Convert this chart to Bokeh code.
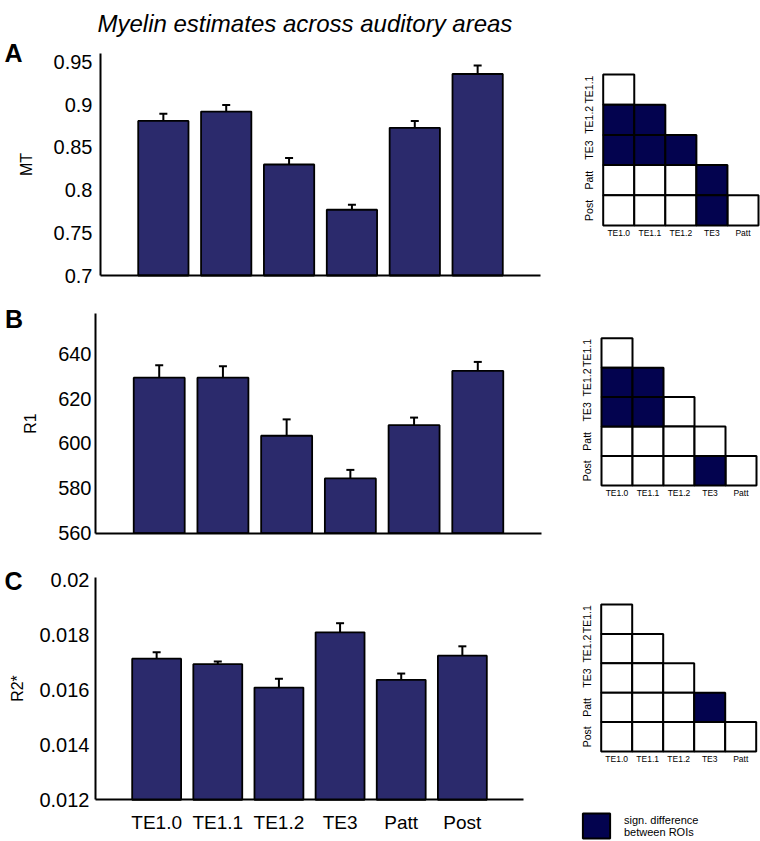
from bokeh.plotting import figure
from bokeh.models import (Range1d, FixedTicker, PrintfTickFormatter, Whisker, TeeHead,
                          ColumnDataSource, Label, Legend, LegendItem, LinearAxis)
from bokeh.embed import file_html
from bokeh.resources import INLINE

# ---------------- data ----------------
regions = ["TE1.0", "TE1.1", "TE1.2", "TE3", "Patt", "Post"]

mt_values = [0.881, 0.892, 0.830, 0.777, 0.873, 0.936]
mt_errors = [0.0085, 0.0078, 0.0075, 0.0058, 0.0080, 0.0100]
mt_ticks = [0.7, 0.75, 0.8, 0.85, 0.9, 0.95]

r1_values = [629.3, 629.3, 603.4, 584.4, 608.1, 632.3]
r1_errors = [5.5, 5.1, 7.3, 3.8, 3.4, 4.0]
r1_ticks = [560, 580, 600, 620, 640]

r2_values = [0.01713, 0.01693, 0.01608, 0.01809, 0.01636, 0.01724]
r2_errors = [0.00023, 0.00010, 0.00032, 0.00033, 0.00023, 0.00034]
r2_ticks = [0.012, 0.014, 0.016, 0.018, 0.02]

mat_cols = ["TE1.0", "TE1.1", "TE1.2", "TE3", "Patt"]
mat_rows = ["TE1.1", "TE1.2", "TE3", "Patt", "Post"]
sig_mt = [[0], [1, 1], [1, 1, 1], [0, 0, 0, 1], [0, 0, 0, 1, 0]]
sig_r1 = [[0], [1, 1], [1, 1, 0], [0, 0, 0, 0], [0, 0, 0, 1, 0]]
sig_r2 = [[0], [0, 0], [0, 0, 0], [0, 0, 0, 1], [0, 0, 0, 0, 0]]

title_text = "Myelin estimates across auditory areas"
legend_text = "sign. difference\nbetween ROIs"

# ---------------- style / layout ----------------
FONT = "Liberation Sans"
BAR = "#2b2a6c"
DARK = "#03034f"
L, R, T, B = 0, 760, 0, 841   # page area covered by the plot frame

p = figure(width=R - L, height=B - T, output_backend="svg", toolbar_location=None,
           x_range=Range1d(L, R), y_range=Range1d(B, T),
           x_axis_type=None, y_axis_type=None, min_border=0)
p.outline_line_color = None
p.background_fill_color = "white"
p.border_fill_color = "white"


def xr(d0, d1, p0, p1):
    k = (d1 - d0) / (p1 - p0)
    return Range1d(d0 - (p0 - L) * k, d1 + (R - p1) * k)


def yr(d0, d1, pbot, ptop):
    k = (d1 - d0) / (pbot - ptop)
    return Range1d(d0 - (B - pbot) * k, d1 + (ptop - T) * k)


def bar_panel(key, vals, errs, ylo, yhi, yticks, ylabel, xpix, ypix, show_x,
              tick_standoff, label_standoff):
    n = len(regions)
    xn, yn = "bx" + key, "by" + key
    p.extra_x_ranges[xn] = xr(0, n + 1, *xpix)
    p.extra_y_ranges[yn] = yr(ylo, yhi, *ypix)
    xs = list(range(1, n + 1))
    src = ColumnDataSource(dict(x=xs, top=vals,
                                upper=[v + e for v, e in zip(vals, errs)],
                                lower=[v - e for v, e in zip(vals, errs)]))
    p.vbar(x="x", top="top", bottom=ylo, width=0.8, source=src,
           fill_color=BAR, line_color="black", line_width=1.8,
           x_range_name=xn, y_range_name=yn)
    p.add_layout(Whisker(base="x", upper="upper", lower="lower", source=src,
                         line_width=2, line_color="black",
                         upper_head=TeeHead(size=8, line_width=2, line_color="black"),
                         lower_head=TeeHead(size=8, line_width=2, line_color="black"),
                         x_range_name=xn, y_range_name=yn))

    ya = LinearAxis(x_range_name=xn, y_range_name=yn, fixed_location=0,
                    bounds=(ylo, yhi), ticker=FixedTicker(ticks=yticks),
                    formatter=PrintfTickFormatter(format="%g"))
    ya.major_label_text_font = FONT
    ya.major_label_text_font_size = "20px"
    ya.major_label_text_color = "black"
    ya.axis_line_width = 2
    ya.axis_line_color = "black"
    ya.major_tick_line_color = None
    ya.minor_tick_line_color = None
    ya.major_tick_out = 0
    ya.major_label_standoff = tick_standoff
    ya.axis_label = ylabel
    ya.axis_label_text_font = FONT
    ya.axis_label_text_font_size = "16px"
    ya.axis_label_text_font_style = "normal"
    ya.axis_label_text_color = "black"
    ya.axis_label_standoff = label_standoff
    p.add_layout(ya, "left")

    xa = LinearAxis(x_range_name=xn, y_range_name=yn, fixed_location=ylo,
                    bounds=(0, n + 1))
    xa.axis_line_width = 2
    xa.axis_line_color = "black"
    xa.major_tick_line_color = None
    xa.minor_tick_line_color = None
    xa.major_tick_out = 0
    if show_x:
        xa.ticker = FixedTicker(ticks=xs)
        xa.major_label_overrides = {i: r for i, r in zip(xs, regions)}
        xa.major_label_text_font = FONT
        xa.major_label_text_font_size = "19px"
        xa.major_label_text_color = "black"
        xa.major_label_standoff = 12
    else:
        xa.ticker = FixedTicker(ticks=[])
        xa.major_label_text_font_size = "0px"
    p.add_layout(xa, "below")


def matrix_panel(key, sig, xpix, ypix):
    nc, nr = len(mat_cols), len(mat_rows)
    xn, yn = "mx" + key, "my" + key
    p.extra_x_ranges[xn] = xr(0, nc, *xpix)
    p.extra_y_ranges[yn] = yr(0, nr, *ypix)
    wx, wy, dx, dy = [], [], [], []
    for i, r in enumerate(mat_rows):
        yc = nr - i - 0.5
        for j, s in enumerate(sig[i]):
            if s:
                dx.append(j + 0.5); dy.append(yc)
            else:
                wx.append(j + 0.5); wy.append(yc)
    p.rect(x=wx, y=wy, width=1, height=1, fill_color="white", line_color="black",
           line_width=2, x_range_name=xn, y_range_name=yn)
    rd = p.rect(x=dx, y=dy, width=1, height=1, fill_color=DARK, line_color="black",
                line_width=2, x_range_name=xn, y_range_name=yn)

    xt = [j + 0.5 for j in range(nc)]
    xa = LinearAxis(x_range_name=xn, y_range_name=yn, fixed_location=0,
                    ticker=FixedTicker(ticks=xt),
                    major_label_overrides={t: c for t, c in zip(xt, mat_cols)})
    yt = [nr - i - 0.5 for i in range(nr)]
    ya = LinearAxis(x_range_name=xn, y_range_name=yn, fixed_location=0,
                    ticker=FixedTicker(ticks=yt),
                    major_label_overrides={t: r for t, r in zip(yt, mat_rows)})
    for ax, size in ((xa, "8.5px"), (ya, "10.5px")):
        ax.axis_line_color = None
        ax.major_tick_line_color = None
        ax.minor_tick_line_color = None
        ax.major_tick_out = 0
        ax.major_label_text_font = FONT
        ax.major_label_text_font_size = size
        ax.major_label_text_color = "black"
    xa.major_label_standoff = 2
    ya.major_label_orientation = "vertical"
    ya.major_label_standoff = 8
    p.add_layout(xa, "below")
    p.add_layout(ya, "left")
    return rd


bar_panel("A", mt_values, mt_errors, 0.7, 0.96, mt_ticks, "MT",
          (100, 540), (275, 53), False, 8, 16)
bar_panel("B", r1_values, r1_errors, 560, 658, r1_ticks, "R1",
          (95, 541), (532.7, 312.7), False, 4, 16)
bar_panel("C", r2_values, r2_errors, 0.012, 0.0201, r2_ticks, "R2*",
          (95, 523), (799.3, 576.5), True, 6, 10)

matrix_panel("A", sig_mt, (602.7, 758), (225, 74))
matrix_panel("B", sig_r1, (601, 756), (485, 337.7))
rdC = matrix_panel("C", sig_r2, (600.7, 755.7), (751, 604))

# title and panel letters (page coordinates of the default ranges)
p.add_layout(Label(x=97, y=23, text=title_text, text_align="left",
                   text_baseline="alphabetic", text_font=FONT, text_font_size="24px",
                   text_font_style="italic", text_color="black"))
for letter, lx, ly in (("A", 13, 52.5), ("B", 13.5, 318), ("C", 13, 580)):
    p.add_layout(Label(x=lx, y=ly, text=letter, text_align="center",
                       text_baseline="middle", text_font=FONT, text_font_size="25px",
                       text_font_style="bold", text_color="black"))

leg = Legend(items=[LegendItem(label=legend_text, renderers=[rdC])],
             location=(579 - L, 0), glyph_width=34, glyph_height=31,
             label_standoff=11, label_text_font=FONT, label_text_font_size="11px",
             label_text_line_height=1.0,
             label_text_color="black", padding=0, margin=0, spacing=0,
             border_line_color=None, background_fill_alpha=0)
p.add_layout(leg, "center")

with open("out.html", "w") as f:
    f.write(file_html(p, INLINE))
